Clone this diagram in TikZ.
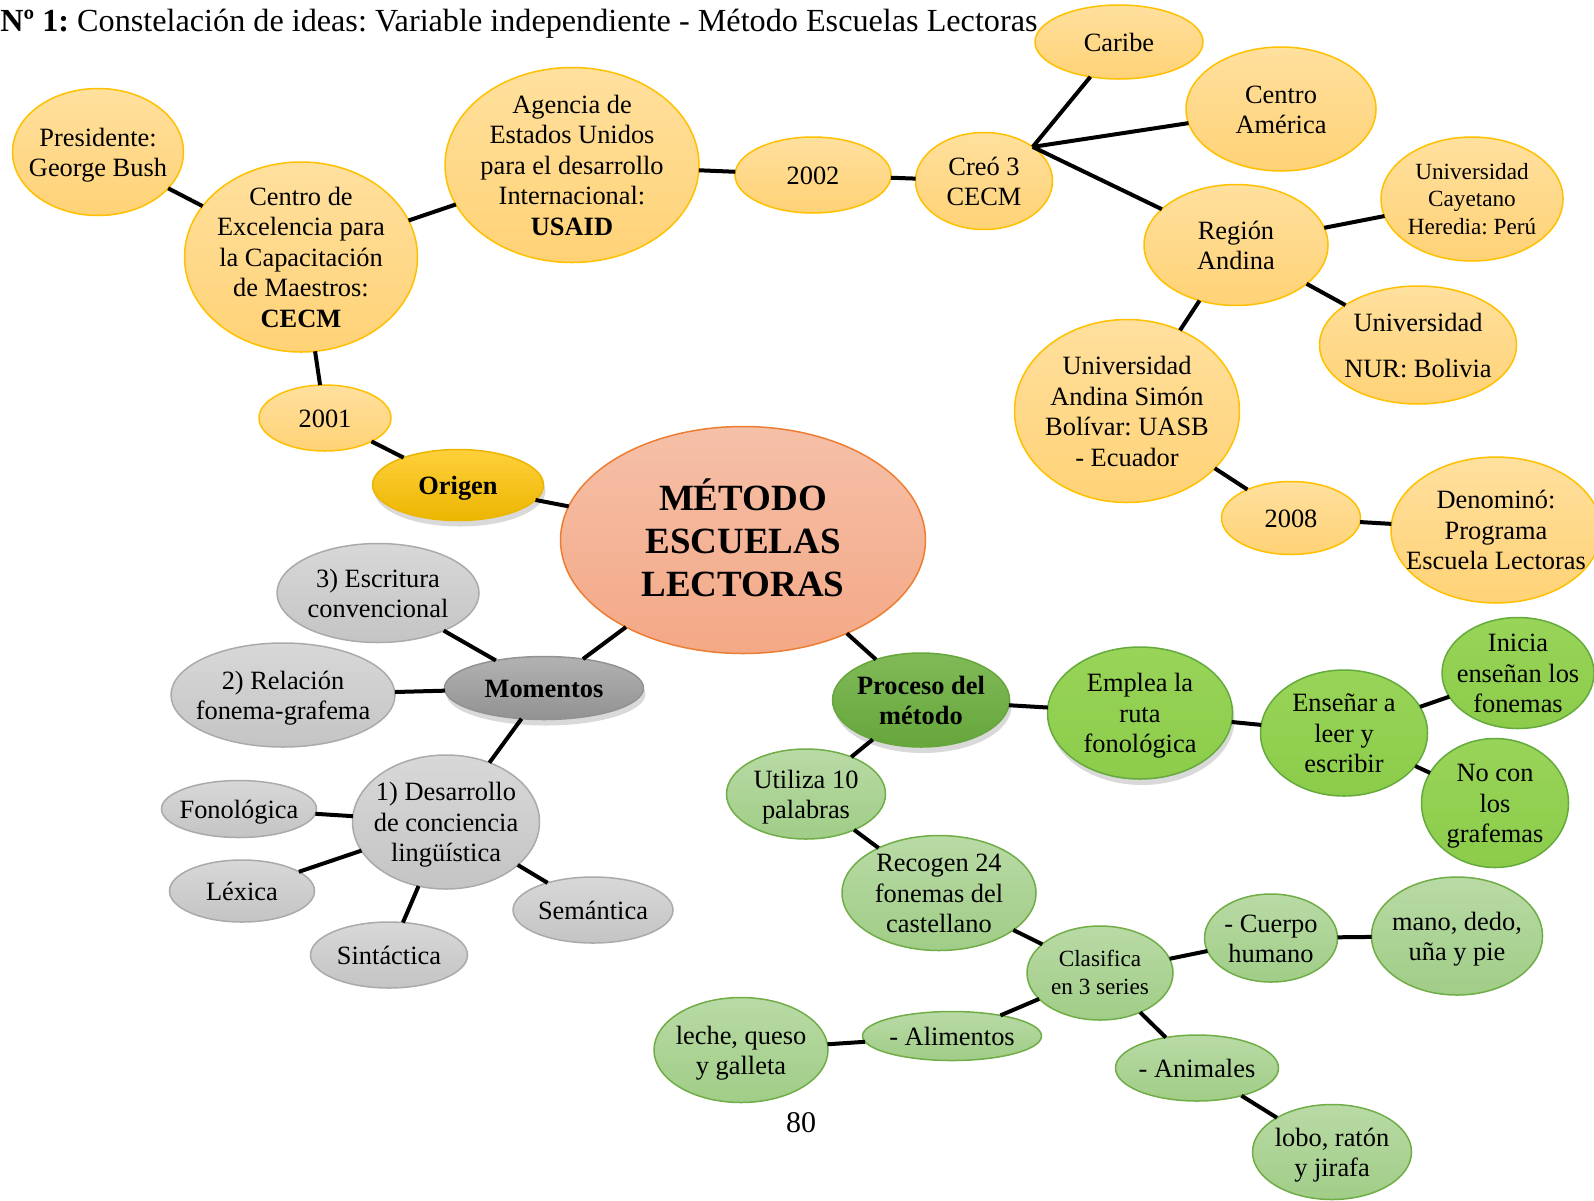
\documentclass[tikz,border=0pt]{standalone}
\usepackage{fontspec}
\setmainfont{Liberation Serif}
\usepackage{xcolor}
\usepackage{tikz}
\usetikzlibrary{shapes.geometric,shadows}
\frenchspacing
\definecolor{yelTop}{RGB}{255,224,158}
\definecolor{yelBot}{RGB}{255,210,118}
\definecolor{yelLine}{RGB}{255,192,0}
\definecolor{salTop}{RGB}{245,192,168}
\definecolor{salBot}{RGB}{244,168,134}
\definecolor{salLine}{RGB}{237,125,49}
\definecolor{silTop}{RGB}{216,216,216}
\definecolor{silBot}{RGB}{196,196,196}
\definecolor{silLine}{RGB}{170,170,170}
\definecolor{leafTop}{RGB}{185,218,165}
\definecolor{leafBot}{RGB}{160,205,135}
\definecolor{leafLine}{RGB}{112,173,71}
\definecolor{limeTop}{RGB}{152,212,88}
\definecolor{limeBot}{RGB}{140,204,74}
\definecolor{limeLine}{RGB}{100,170,60}
\definecolor{goldTop}{RGB}{255,208,60}
\definecolor{goldBot}{RGB}{236,182,0}
\definecolor{greyTop}{RGB}{178,178,178}
\definecolor{greyBot}{RGB}{146,146,146}
\definecolor{greenTop}{RGB}{128,186,88}
\definecolor{greenBot}{RGB}{102,166,60}
\newcommand{\nodefont}{\fontsize{13.2}{15.3}\selectfont}
\newcommand{\smallnodefont}{\fontsize{11.6}{13.8}\selectfont}
\newcommand{\bubtext}[1]{\makebox[0pt]{\raisebox{-.35em}[0pt][0pt]{\begin{tabular}{@{}c@{}}#1\end{tabular}}}}

\begin{document}
\begin{tikzpicture}[
  x=0.5pt, y=-0.5pt,
  bubble/.style={ellipse, inner sep=0pt, outer sep=0pt, line width=0.75pt, font=\nodefont},
  sz/.style 2 args={minimum width=#1*0.5pt, minimum height=#2*0.5pt},
  gold/.style={bubble, draw=yelLine, top color=yelTop, bottom color=yelBot},
  salmon/.style={bubble, draw=salLine, top color=salTop, bottom color=salBot},
  silver/.style={bubble, draw=silLine, top color=silTop, bottom color=silBot},
  leaf/.style={bubble, draw=leafLine, top color=leafTop, bottom color=leafBot},
  lime/.style={bubble, draw=limeLine, top color=limeTop, bottom color=limeBot},
  soft/.style={drop shadow={shadow xshift=1pt, shadow yshift=-3pt, opacity=0.3}},
  origin/.style={bubble, draw=goldBot, top color=goldTop, bottom color=goldBot, soft},
  hubgrey/.style={bubble, draw=greyBot, top color=greyTop, bottom color=greyBot, soft},
  hubgreen/.style={bubble, draw=greenBot, top color=greenTop, bottom color=greenBot, soft},
  link/.style={line width=2pt, black},
]
\useasboundingbox (0,0) rectangle (1594,1200);

% title and page number
\node[anchor=west, inner sep=0pt, font=\fontsize{16.1}{18.5}\selectfont] (title) at (0,24)
  {\textbf{Nº 1:} Constelación de ideas: Variable independiente - Método Escuelas Lectoras};
\node[inner sep=0pt, font=\fontsize{15}{18}\selectfont] (page) at (801,1123) {80};

% origin branch (yellow)
\node[gold, sz={171}{127}] (pres) at (98,152) {\bubtext{Presidente:\\ George Bush}};
\node[gold, sz={233}{190}] (cecm) at (301,257) {\bubtext{Centro de\\ Excelencia para\\ la Capacitación\\ de Maestros:\\ \textbf{CECM}}};
\node[gold, sz={254}{195}] (usaid) at (572,165) {\bubtext{Agencia de\\ Estados Unidos\\ para el desarrollo\\ Internacional:\\ \textbf{USAID}}};
\node[gold, sz={156}{76}] (y2002) at (813,175) {\bubtext{2002}};
\node[gold, sz={137}{97}] (creo) at (984,181) {\bubtext{Creó 3\\ CECM}};
\node[gold, sz={168}{74}] (caribe) at (1119,42) {\bubtext{Caribe}};
\node[gold, sz={190}{124}] (camerica) at (1281,109) {\bubtext{Centro\\ América}};
\node[gold, sz={184}{121}] (andina) at (1236,245) {\bubtext{Región\\ Andina}};
\node[gold, sz={182}{124}, font=\smallnodefont] (cayetano) at (1472,199) {\bubtext{Universidad\\ Cayetano\\ Heredia: Perú}};
\node[gold, sz={197}{118}] (nur) at (1418,345) {\bubtext{Universidad\\[8pt] NUR: Bolivia}};
\node[gold, sz={225}{183}] (uasb) at (1127,411) {\bubtext{Universidad\\ Andina Simón\\ Bolívar: UASB\\ - Ecuador}};
\node[gold, sz={139}{73}] (y2008) at (1291,518) {\bubtext{2008}};
\node[gold, sz={210}{146}] (denom) at (1496,530) {\bubtext{Denominó:\\ Programa\\ Escuela Lectoras}};
\node[gold, sz={132}{66}] (y2001) at (325,418) {\bubtext{2001}};
\node[origin, sz={171}{71}] (origen) at (458,485) {\bubtext{\textbf{Origen}}};

% centre
\node[salmon, sz={365}{227}, font=\fontsize{18.5}{21.5}\selectfont] (metodo) at (743,540)
  {\bubtext{\textbf{MÉTODO}\\ \textbf{ESCUELAS}\\ \textbf{LECTORAS}}};

% moments branch (grey)
\node[hubgrey, sz={199}{63}] (momentos) at (544,688) {\bubtext{\textbf{Momentos}}};
\node[silver, sz={202}{99}] (escrit) at (378,593) {\bubtext{3) Escritura\\ convencional}};
\node[silver, sz={224}{104}] (relac) at (283,695) {\bubtext{2) Relación\\ fonema-grafema}};
\node[silver, sz={187}{134}] (desarr) at (446,822) {\bubtext{1) Desarrollo\\ de conciencia\\ lingüística}};
\node[silver, sz={155}{57}] (fonol) at (239,809) {\bubtext{Fonológica}};
\node[silver, sz={145}{62}] (lexica) at (242,891) {\bubtext{Léxica}};
\node[silver, sz={157}{66}] (sintac) at (389,955) {\bubtext{Sintáctica}};
\node[silver, sz={160}{66}] (seman) at (593,910) {\bubtext{Semántica}};

% process branch (green)
\node[hubgreen, sz={177}{94}] (proceso) at (921,700) {\bubtext{\textbf{Proceso del}\\ \textbf{método}}};
\node[lime, sz={185}{132}, soft] (emplea) at (1140,713) {\bubtext{Emplea la\\ ruta\\ fonológica}};
\node[lime, sz={167}{126}] (ensenar) at (1344,733) {\bubtext{Enseñar a\\ leer y\\ escribir}};
\node[lime, sz={152}{111}] (inicia) at (1518,673) {\bubtext{Inicia\\ enseñan los\\ fonemas}};
\node[lime, sz={147}{129}] (nocon) at (1495,803) {\bubtext{No con\\ los\\ grafemas}};
\node[leaf, sz={159}{90}] (utiliza) at (806,794) {\bubtext{Utiliza 10\\ palabras}};
\node[leaf, sz={194}{115}] (recogen) at (939,893) {\bubtext{Recogen 24\\ fonemas del\\ castellano}};
\node[leaf, sz={146}{94}, font=\smallnodefont] (clasif) at (1100,973) {\bubtext{Clasifica\\ en 3 series}};
\node[leaf, sz={133}{88}] (cuerpo) at (1271,938) {\bubtext{- Cuerpo\\ humano}};
\node[leaf, sz={171}{118}] (mano) at (1457,936) {\bubtext{mano, dedo,\\ uña y pie}};
\node[leaf, sz={179}{49}] (alim) at (952,1036) {\bubtext{- Alimentos}};
\node[leaf, sz={174}{105}] (leche) at (741,1050) {\bubtext{leche, queso\\ y galleta}};
\node[leaf, sz={163}{66}] (animal) at (1197,1068) {\bubtext{- Animales}};
\node[leaf, sz={159}{95}] (lobo) at (1332,1152) {\bubtext{lobo, ratón\\ y jirafa}};

% connectors
\draw[link] (pres) -- (cecm);
\draw[link] (cecm) -- (usaid);
\draw[link] (usaid) -- (y2002);
\draw[link] (y2002) -- (creo);
\draw[link] (creo.35) -- (caribe);
\draw[link] (creo.35) -- (camerica);
\draw[link] (creo.35) -- (andina);
\draw[link] (andina) -- (cayetano);
\draw[link] (andina) -- (nur);
\draw[link] (andina) -- (uasb);
\draw[link] (uasb) -- (y2008);
\draw[link] (y2008) -- (denom);
\draw[link] (cecm) -- (y2001);
\draw[link] (y2001) -- (origen);
\draw[link] (origen) -- (metodo);
\draw[link] (metodo) -- (momentos);
\draw[link] (metodo) -- (proceso);
\draw[link] (momentos) -- (escrit);
\draw[link] (momentos) -- (relac);
\draw[link] (momentos) -- (desarr);
\draw[link] (desarr) -- (fonol);
\draw[link] (desarr) -- (lexica);
\draw[link] (desarr) -- (sintac);
\draw[link] (desarr) -- (seman);
\draw[link] (proceso) -- (emplea);
\draw[link] (emplea) -- (ensenar);
\draw[link] (ensenar) -- (inicia);
\draw[link] (ensenar) -- (nocon);
\draw[link] (proceso) -- (utiliza);
\draw[link] (utiliza) -- (recogen);
\draw[link] (recogen) -- (clasif);
\draw[link] (clasif) -- (cuerpo);
\draw[link] (cuerpo) -- (mano);
\draw[link] (clasif) -- (alim);
\draw[link] (alim) -- (leche);
\draw[link] (clasif) -- (animal);
\draw[link] (animal) -- (lobo);
\end{tikzpicture}
\end{document}
